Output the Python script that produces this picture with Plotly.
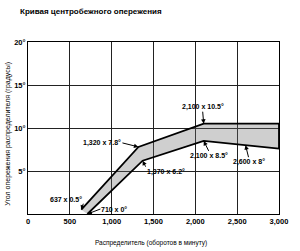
import plotly.graph_objects as go

# Data
rpm_upper = [637, 1320, 2100, 3000]
adv_upper = [0.5, 7.8, 10.5, 10.5]
rpm_lower = [710, 1370, 2100, 2600, 3000]
adv_lower = [0, 6.2, 8.5, 8, 7.6]

x_ticks = [0, 500, 1000, 1500, 2000, 2500, 3000]
x_tick_labels = ["0", "500", "1,000", "1,500", "2,000", "2,500", "3,000"]
y_ticks = [5, 10, 15, 20]
y_tick_labels = ["5°", "10°", "15°", "20°"]

label_rpm = [637, 710, 1320, 1370, 2100, 2100, 2600]
label_adv = [0.5, 0, 7.8, 6.2, 10.5, 8.5, 8]
label_text = ["637 x 0.5°", "710 x 0°", "1,320 x 7.8°", "1,370 x 6.2°",
              "2,100 x 10.5°", "2,100 x 8.5°", "2,600 x 8°"]
# arrow tail offsets (pixels) and text anchors
label_ax = [2, 13, -16, 3, -1, 5, 3]
label_ay = [-6, -5, -4, 6, -12, 10, 12]
label_xanchor = ["right", "left", "right", "left", "center", "center", "center"]
label_yanchor = ["bottom", "middle", "middle", "top", "bottom", "top", "top"]

FONT = "Liberation Sans"

fig = go.Figure()

# shaded band
fig.add_trace(go.Scatter(
    x=rpm_upper + rpm_lower[::-1],
    y=adv_upper + adv_lower[::-1],
    fill="toself",
    fillcolor="rgba(110,110,110,0.33)",
    line=dict(color="black", width=1.8),
    mode="lines",
    hoverinfo="skip",
    showlegend=False,
))

for i in range(len(label_text)):
    fig.add_annotation(
        x=label_rpm[i], y=label_adv[i], text="<b>" + label_text[i] + "</b>",
        showarrow=True, ax=label_ax[i], ay=label_ay[i],
        arrowhead=2, arrowsize=0.9, arrowwidth=1, arrowcolor="black",
        standoff=0, xanchor=label_xanchor[i], yanchor=label_yanchor[i],
        font=dict(family=FONT, size=7, color="black"),
        borderpad=0,
    )

# axis titles
fig.add_annotation(
    xref="paper", yref="paper", x=(155 - 28) / 260, y=(214 - 243) / 172,
    text="Распределитель (оборотов в минуту)", showarrow=False,
    xanchor="center", yanchor="middle",
    font=dict(family=FONT, size=6.5, color="black"),
)
fig.add_annotation(
    xref="paper", yref="paper", x=(7 - 28) / 260, y=(214 - 134) / 172,
    text="Угол опережения распределителя (градусы)", showarrow=False,
    textangle=-90, xanchor="center", yanchor="middle",
    font=dict(family=FONT, size=7, color="black"),
)

fig.update_layout(
    width=300, height=251,
    margin=dict(l=28, r=12, t=42, b=37),
    paper_bgcolor="white", plot_bgcolor="white",
    title=dict(
        text="<b>Кривая центробежного опережения</b>",
        xref="container", yref="container",
        x=20 / 300, y=1 - 11 / 251, xanchor="left", yanchor="middle",
        font=dict(family=FONT, size=8, color="black"),
    ),
    xaxis=dict(
        range=[0, 3000], tickvals=x_ticks, ticktext=["<b>%s</b>" % t for t in x_tick_labels],
        showgrid=True, gridcolor="#222222", gridwidth=1,
        showline=True, linecolor="black", linewidth=1, mirror=True,
        zeroline=False, ticks="", tickfont=dict(family=FONT, size=7.5, color="black"),
        fixedrange=True,
    ),
    yaxis=dict(
        range=[0, 20], tickvals=y_ticks, ticktext=["<b>%s</b>" % t for t in y_tick_labels],
        showgrid=True, gridcolor="#222222", gridwidth=1,
        showline=True, linecolor="black", linewidth=1, mirror=True,
        zeroline=False, ticks="", tickfont=dict(family=FONT, size=7.5, color="black"),
        ticklabelstandoff=0,
        fixedrange=True,
    ),
    showlegend=False,
)

fig.write_html("out.html")
